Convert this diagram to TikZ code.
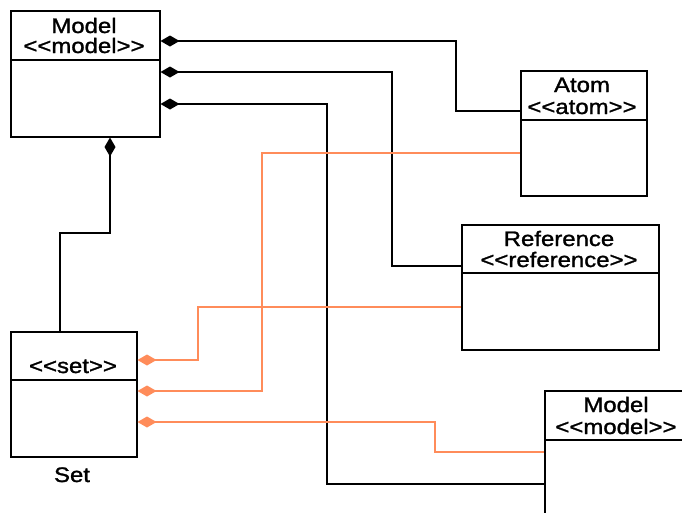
\documentclass[tikz,border=0pt]{standalone}
\usepackage{fontspec}
\newfontfamily\umlfont{Liberation Sans}[FakeStretch=1.14,FakeBold=1.3]
\usetikzlibrary{arrows.meta}
\definecolor{orng}{RGB}{255,140,90}
\tikzset{
  umlbox/.style={draw=black, line width=1.5pt, fill=white, rectangle, anchor=north west, inner sep=0pt},
  divider/.style={draw=black, line width=1.5pt},
  lbl/.style={font=\umlfont\fontsize{21}{21}\selectfont, anchor=base, inner sep=0pt},
  blk/.style={draw=black, line width=1.4pt, {Diamond[length=19pt,width=11pt]}-},
  org/.style={draw=orng, line width=1.4pt, {Diamond[length=19pt,width=11pt]}-},
}
\begin{document}
\begin{tikzpicture}[x=1pt,y=-1pt]
\clip (0,0) rectangle (682,512);
\fill[white] (0,0) rectangle (682,512);
% boxes
\node[umlbox, minimum width=149pt, minimum height=126pt] (model) at (10,10) {};
\node[umlbox, minimum width=126pt, minimum height=125pt] (atom) at (520,70) {};
\node[umlbox, minimum width=197pt, minimum height=125pt] (ref) at (461,224) {};
\node[umlbox, minimum width=126pt, minimum height=125pt] (set) at (10,331) {};
\node[umlbox, minimum width=146pt, minimum height=180pt] (model2) at (544,390) {};
% dividers
\draw[divider] (model.west |- 0,60) -- (model.east |- 0,60);
\draw[divider] (atom.west |- 0,120) -- (atom.east |- 0,120);
\draw[divider] (ref.west |- 0,273) -- (ref.east |- 0,273);
\draw[divider] (set.west |- 0,380) -- (set.east |- 0,380);
\draw[divider] (model2.west |- 0,440) -- (model2.east |- 0,440);
% labels
\node[lbl] (modelname) at (84,33) {Model};
\node[lbl] (modelst) at (84,53) {<{}<model>{}>};
\node[lbl] (atomname) at (582,92) {Atom};
\node[lbl] (atomst) at (582,114) {<{}<atom>{}>};
\node[lbl] (refname) at (559,246) {Reference};
\node[lbl] (refst) at (559,267) {<{}<reference>{}>};
\node[lbl] (setst) at (73,373) {<{}<set>{}>};
\node[lbl] (setname) at (72,482) {Set};
\node[lbl] (model2name) at (616,412) {Model};
\node[lbl] (model2st) at (616,434) {<{}<model>{}>};
% black composition connectors
\draw[blk] (model.east |- 0,41) -- (456,41) -- (456,111) -- (atom.west |- 0,111);
\draw[blk] (model.east |- 0,72) -- (392,72) -- (392,266) -- (ref.west |- 0,266);
\draw[blk] (model.east |- 0,104) -- (327,104) -- (327,484) -- (model2.west |- 0,484);
\draw[blk] (model.south -| 110,0) -- (110,233) -- (60,233) -- (set.north -| 60,0);
% orange connectors
\draw[org] (set.east |- 0,360) -- (198,360) -- (198,307) -- (ref.west |- 0,307);
\draw[org] (set.east |- 0,391) -- (262,391) -- (262,153) -- (atom.west |- 0,153);
\draw[org] (set.east |- 0,422) -- (435,422) -- (435,452) -- (model2.west |- 0,452);
\end{tikzpicture}
\end{document}
